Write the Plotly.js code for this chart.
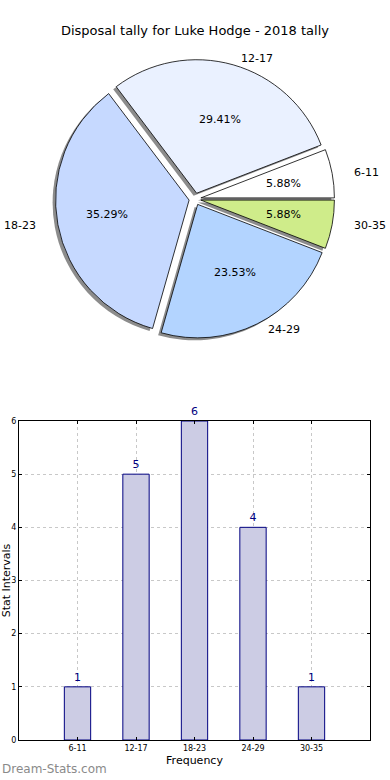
<!DOCTYPE html>
<html>
<head>
<meta charset="utf-8">
<script src="https://cdn.plot.ly/plotly-3.0.1.min.js"></script>
<style>
  html, body { margin: 0; padding: 0; background: #fff; }
  #chart { width: 390px; height: 780px; }
</style>
</head>
<body>
<div id="chart"></div>
<script>
// ---- data ----
const categories = ["6-11", "12-17", "18-23", "24-29", "30-35"];
const counts = [1, 5, 6, 4, 1];
const sliceColors = ["#ffffff", "#eaf1ff", "#c6d9ff", "#b3d4ff", "#cfec8a"];
const chartTitle = "Disposal tally for Luke Hodge - 2018 tally";
const xTitle = "Frequency";
const yTitle = "Stat Intervals";
const watermark = "Dream-Stats.com";

// ---- layout helpers (pixels -> paper) ----
const W = 390, H = 780;
const FONT = "DejaVu Sans, sans-serif";
const pieCx = 195, pieCy = 199, pieHalf = 139.5;
const pull = 0.045;
const total = counts.reduce((a, b) => a + b, 0);
// first slice starts at 3 o'clock and runs counterclockwise (plotly puts the
// end of the first slice at `rotation` when counterclockwise)
const rotation = 90 - 360 * counts[0] / total;
function dom(cx, cy, half) {
  return {
    x: [(cx - half) / W, (cx + half) / W],
    y: [(H - cy - half) / H, (H - cy + half) / H]
  };
}
const pulls = categories.map(() => pull);

// label / percentage text positions, derived from the slice angles
const rx = 140, ry = 127, pullPx = 6;
const annotations = [];
let cum = 0;
counts.forEach((v, i) => {
  const mid = (cum + v / 2) / total * 2 * Math.PI;
  cum += v;
  const c = Math.cos(mid), s = Math.sin(mid);
  const bx = pieCx + pullPx * c, by = pieCy - pullPx * s;
  const pct = (100 * v / total).toFixed(2) + "%";
  annotations.push({
    text: pct, xref: "paper", yref: "paper",
    x: (bx + 0.6 * rx * c) / W, y: 1 - (by - 0.6 * ry * s) / H,
    xanchor: "center", yanchor: "middle", showarrow: false,
    font: { family: FONT, size: 11, color: "#000000" }
  });
  annotations.push({
    text: categories[i], xref: "paper", yref: "paper",
    x: (bx + 1.1 * rx * c) / W, y: 1 - (by - 1.1 * ry * s) / H,
    xanchor: c >= 0 ? "left" : "right", yanchor: "middle", showarrow: false,
    font: { family: FONT, size: 11, color: "#000000" }
  });
});
annotations.push({
  text: watermark, xref: "paper", yref: "paper", x: 0, y: 2 / H,
  xanchor: "left", yanchor: "bottom", showarrow: false,
  font: { family: FONT, size: 12, color: "#8a8a8a" }
});

const shadow = {
  type: "pie", labels: categories, values: counts, sort: false,
  direction: "counterclockwise", rotation: rotation, pull: pulls,
  marker: { colors: categories.map(() => "#8c8c8c"), line: { width: 0 } },
  textinfo: "none", hoverinfo: "skip", showlegend: false,
  domain: dom(pieCx - 3, pieCy + 2.5, pieHalf)
};
const pie = {
  type: "pie", labels: categories, values: counts, sort: false,
  direction: "counterclockwise", rotation: rotation, pull: pulls,
  marker: { colors: sliceColors, line: { color: "#000000", width: 0.8 } },
  textinfo: "none", showlegend: false, domain: dom(pieCx, pieCy, pieHalf)
};

const bars = {
  type: "bar", x: categories, y: counts, width: 0.45,
  marker: { color: "#ccccE4", line: { color: "#000080", width: 1 } },
  text: counts.map(String), textposition: "outside", cliponaxis: false,
  textfont: { family: FONT, size: 11, color: "#000080" },
  xaxis: "x", yaxis: "y", showlegend: false, hoverinfo: "x+y"
};

const layout = {
  width: W, height: H,
  margin: { l: 0, r: 0, t: 0, b: 0 },
  paper_bgcolor: "#ffffff", plot_bgcolor: "#ffffff",
  showlegend: false,
  font: { family: FONT, color: "#000000" },
  title: {
    text: chartTitle, font: { family: FONT, size: 13, color: "#000000" },
    x: 0.5, xanchor: "center", y: 1 - 30 / H, yanchor: "middle"
  },
  xaxis: {
    domain: [19 / W, 370 / W], range: [-1, 5], type: "category",
    showline: true, linecolor: "#000000", linewidth: 1, mirror: "allticks",
    ticks: "inside", ticklen: 3, tickcolor: "#000000",
    showgrid: true, gridcolor: "#c8c8c8", griddash: "dot", gridwidth: 1,
    tickfont: { family: FONT, size: 8, color: "#000000" },
    title: { text: xTitle, font: { family: FONT, size: 11, color: "#000000" }, standoff: 4 },
    zeroline: false, automargin: false, fixedrange: true
  },
  yaxis: {
    domain: [40 / H, 359 / H], range: [0, 6], dtick: 1,
    showline: true, linecolor: "#000000", linewidth: 1, mirror: "allticks",
    ticks: "inside", ticklen: 3, tickcolor: "#000000",
    showgrid: true, gridcolor: "#c8c8c8", griddash: "dot", gridwidth: 1,
    tickfont: { family: FONT, size: 8, color: "#000000" },
    title: { text: yTitle, font: { family: FONT, size: 11, color: "#000000" }, standoff: 0 },
    zeroline: false, automargin: false, fixedrange: true
  },
  annotations: annotations
};

Plotly.newPlot("chart", [shadow, pie, bars], layout, { displayModeBar: false, staticPlot: true });
</script>
</body>
</html>
